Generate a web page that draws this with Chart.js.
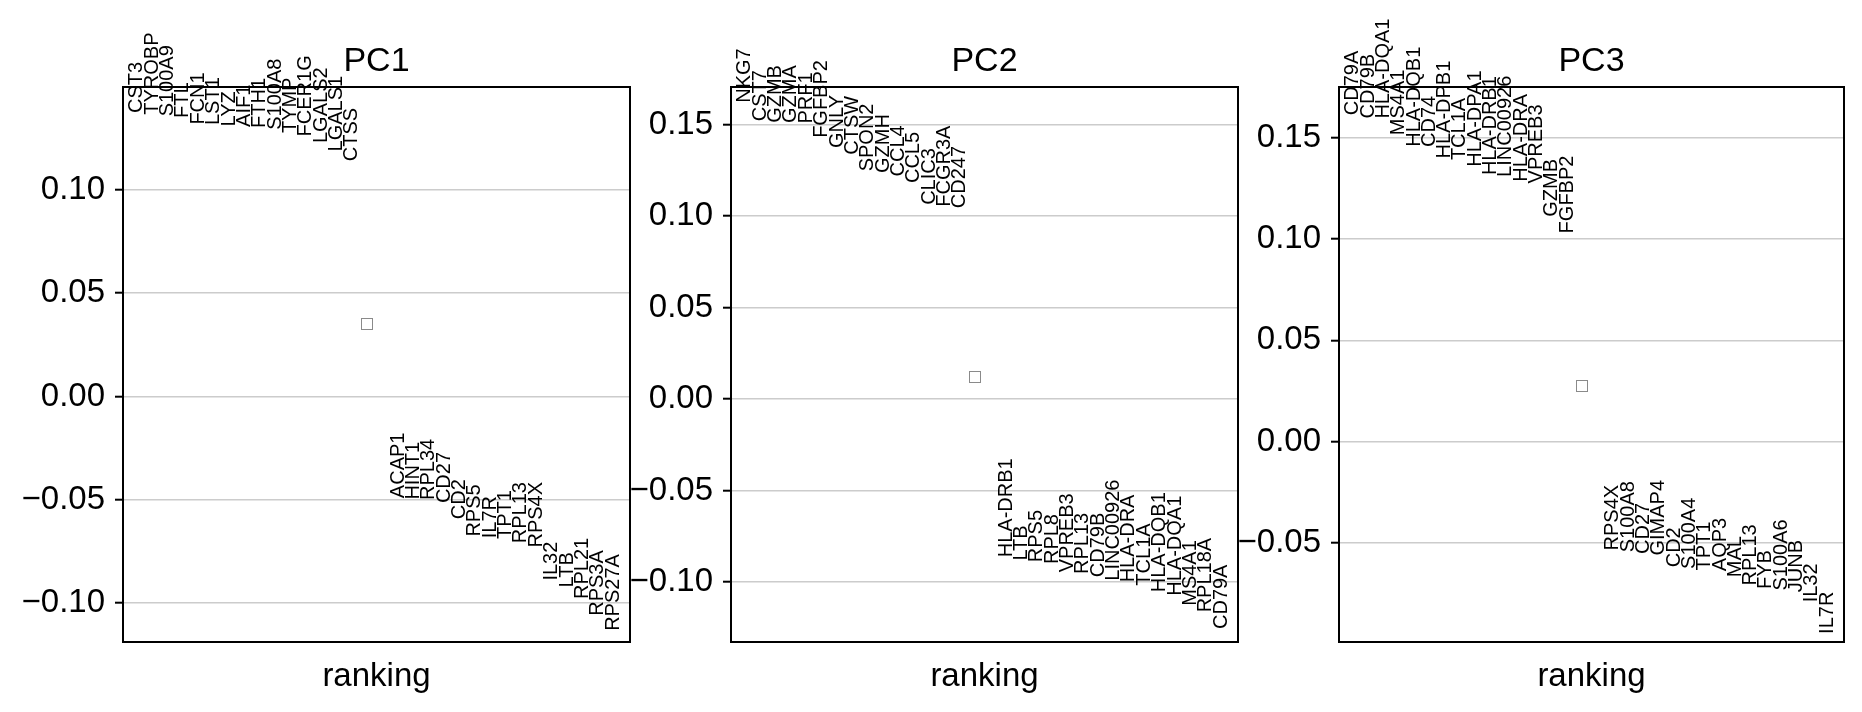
<!DOCTYPE html>
<html>
<head>
<meta charset="utf-8">
<script src="https://cdn.jsdelivr.net/npm/chart.js@4.4.1/dist/chart.umd.min.js"></script>
<style>
  body { margin: 0; background: #fff; }
  #wrap { position: relative; width: 1862px; height: 712px; overflow: hidden; background: #fff; }
  canvas { position: absolute; top: 0; }
</style>
</head>
<body>
<div id="wrap">
  <canvas id="pc1"></canvas>
  <canvas id="pc2"></canvas>
  <canvas id="pc3"></canvas>
</div>
<script>
// PCA loadings: top 15 and bottom 15 genes per component

const FONT = '"Liberation Sans", Arial, Helvetica, sans-serif';

const pcTitles = ['PC1', 'PC2', 'PC3'];

const pc1TopGenes = ['CST3', 'TYROBP', 'S100A9', 'FTL', 'FCN1', 'LST1', 'LYZ', 'AIF1', 'FTH1', 'S100A8', 'TYMP', 'FCER1G', 'LGALS2', 'LGALS1', 'CTSS'];
const pc1TopScores = [0.1371, 0.1363, 0.1355, 0.1347, 0.1315, 0.1313, 0.1306, 0.1304, 0.1299, 0.1290, 0.1274, 0.1258, 0.1226, 0.1185, 0.1138];
const pc1BottomGenes = ['ACAP1', 'HINT1', 'RPL34', 'CD27', 'CD2', 'RPS5', 'IL7R', 'TPT1', 'RPL13', 'RPS4X', 'IL32', 'LTB', 'RPL21', 'RPS3A', 'RPS27A'];
const pc1BottomScores = [-0.0492, -0.0499, -0.0501, -0.0516, -0.0594, -0.0678, -0.0686, -0.0690, -0.0710, -0.0731, -0.0891, -0.0924, -0.0980, -0.1061, -0.1134];

const pc2TopGenes = ['NKG7', 'CST7', 'GZMB', 'GZMA', 'PRF1', 'FGFBP2', 'GNLY', 'CTSW', 'SPON2', 'GZMH', 'CCL4', 'CCL5', 'CLIC3', 'FCGR3A', 'CD247'];
const pc2TopScores = [0.1619, 0.1518, 0.1509, 0.1508, 0.1505, 0.1427, 0.1372, 0.1335, 0.1244, 0.1235, 0.1216, 0.1180, 0.1061, 0.1051, 0.1043];
const pc2BottomGenes = ['HLA-DRB1', 'LTB', 'RPS5', 'RPL8', 'VPREB3', 'RPL13', 'CD79B', 'LINC00926', 'HLA-DRA', 'TCL1A', 'HLA-DQB1', 'HLA-DQA1', 'MS4A1', 'RPL18A', 'CD79A'];
const pc2BottomScores = [-0.0865, -0.0883, -0.0892, -0.0902, -0.0947, -0.0956, -0.0974, -0.0993, -0.1002, -0.1020, -0.1056, -0.1075, -0.1130, -0.1166, -0.1257];

const pc3TopGenes = ['CD79A', 'CD79B', 'HLA-DQA1', 'MS4A1', 'HLA-DQB1', 'CD74', 'HLA-DPB1', 'TCL1A', 'HLA-DPA1', 'HLA-DRB1', 'LINC00926', 'HLA-DRA', 'VPREB3', 'GZMB', 'FGFBP2'];
const pc3TopScores = [0.1612, 0.1596, 0.1595, 0.1513, 0.1456, 0.1455, 0.1398, 0.1390, 0.1357, 0.1316, 0.1307, 0.1283, 0.1275, 0.1110, 0.1028];
const pc3BottomGenes = ['RPS4X', 'S100A8', 'CD27', 'GIMAP4', 'CD2', 'S100A4', 'TPT1', 'AQP3', 'MAL', 'RPL13', 'FYB', 'S100A6', 'JUNB', 'IL32', 'IL7R'];
const pc3BottomScores = [-0.0538, -0.0547, -0.0555, -0.0563, -0.0621, -0.0629, -0.0637, -0.0640, -0.0670, -0.0711, -0.0728, -0.0736, -0.0744, -0.0794, -0.0950];

// y limits of each panel
const yMins = [-0.1188, -0.1328, -0.0990];
const yMaxs = [0.1497, 0.1705, 0.1751];

const panels = [
    { id: 'pc1', left: 123, width: 507, top: pc1TopGenes, topS: pc1TopScores, bot: pc1BottomGenes, botS: pc1BottomScores },
    { id: 'pc2', left: 731, width: 507, top: pc2TopGenes, topS: pc2TopScores, bot: pc2BottomGenes, botS: pc2BottomScores },
    { id: 'pc3', left: 1339, width: 505, top: pc3TopGenes, topS: pc3TopScores, bot: pc3BottomGenes, botS: pc3BottomScores }
];

const AXIS_W = 110;
const RIGHT_PAD = 5;

function fmtTick(v) {
    if (Math.abs(v) < 1e-9) return '0.00';
    return v.toFixed(2).replace('-', '\u2212');
}

function makeLabelPlugin(genes, title) {
    return {
        id: 'geneLabels',
        afterDraw(chart) {
            const ctx = chart.ctx;
            const area = chart.chartArea;
            ctx.save();

            // axes frame
            ctx.strokeStyle = '#000';
            ctx.lineWidth = 2;
            ctx.strokeRect(area.left, area.top, area.right - area.left, area.bottom - area.top);

            // vertical gene names, starting at their score
            ctx.fillStyle = '#000';
            ctx.font = '20px ' + FONT;
            chart.getDatasetMeta(0).data.forEach((pt, i) => {
                ctx.save();
                ctx.translate(pt.x, pt.y);
                ctx.rotate(-Math.PI / 2);
                ctx.textAlign = 'left';
                ctx.textBaseline = 'middle';
                ctx.fillText(genes[i], 0, 0);
                ctx.restore();
            });

            // gap marker (missing glyph box)
            const m = chart.getDatasetMeta(1).data[0];
            ctx.strokeStyle = '#8a8a8a';
            ctx.lineWidth = 1;
            ctx.strokeRect(Math.round(m.x) - 5.5, Math.round(m.y) - 11.5, 11, 11);

            // title and x label
            const cx = (area.left + area.right) / 2;
            ctx.textAlign = 'center';
            ctx.textBaseline = 'middle';
            ctx.font = '34px ' + FONT;
            ctx.fillText(title, cx, 62);
            ctx.font = '33px ' + FONT;
            ctx.fillText('ranking', cx, 677);
            ctx.restore();
        }
    };
}

panels.forEach((p, k) => {
    const canvas = document.getElementById(p.id);
    const w = AXIS_W + p.width + RIGHT_PAD;
    canvas.width = w;
    canvas.height = 712;
    canvas.style.width = w + 'px';
    canvas.style.height = '712px';
    canvas.style.left = (p.left - AXIS_W) + 'px';

    const genes = p.top.concat(p.bot);
    const points = p.topS.map((s, i) => ({ x: i, y: s }))
        .concat(p.botS.map((s, j) => ({ x: p.top.length + 2 + j, y: s })));
    const mid = (p.topS[p.topS.length - 1] + p.botS[0]) / 2;

    new Chart(canvas.getContext('2d'), {
        type: 'scatter',
        data: {
            datasets: [
                { data: points, pointRadius: 0, pointHoverRadius: 0 },
                { data: [{ x: p.top.length, y: mid }], pointRadius: 0, pointHoverRadius: 0 }
            ]
        },
        options: {
            responsive: false,
            animation: false,
            events: [],
            layout: { padding: { top: 87, bottom: 70, left: 0, right: RIGHT_PAD } },
            plugins: { legend: { display: false }, tooltip: { enabled: false } },
            scales: {
                x: {
                    type: 'linear',
                    display: false,
                    min: -0.9,
                    max: 32.1
                },
                y: {
                    type: 'linear',
                    min: yMins[k],
                    max: yMaxs[k],
                    afterFit: scale => { scale.width = AXIS_W; },
                    border: { display: false },
                    grid: {
                        color: '#cccccc',
                        lineWidth: 1.4,
                        tickColor: '#000',
                        tickLength: 8,
                        tickWidth: 2
                    },
                    ticks: {
                        stepSize: 0.05,
                        includeBounds: false,
                        autoSkip: false,
                        padding: 10,
                        color: '#000',
                        font: { family: FONT, size: 33 },
                        callback: v => fmtTick(v)
                    }
                }
            }
        },
        plugins: [makeLabelPlugin(genes, pcTitles[k])]
    });
});
</script>
</body>
</html>
